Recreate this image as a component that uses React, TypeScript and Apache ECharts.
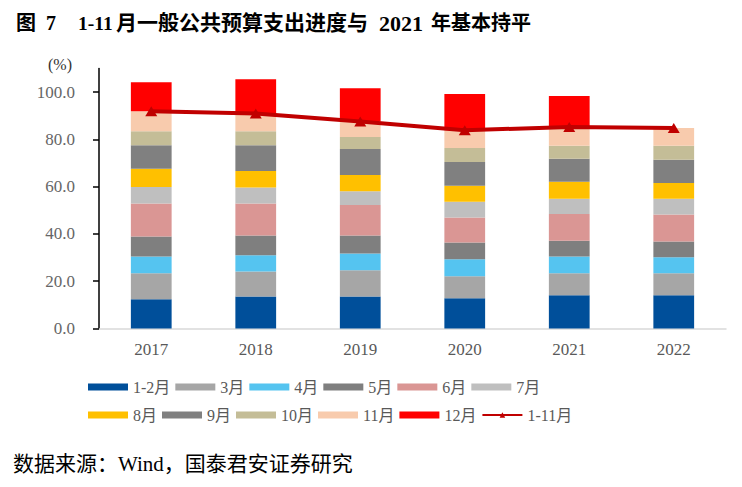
import React, { useEffect, useRef } from "react";
import * as echarts from "echarts";

const years = ["2017", "2018", "2019", "2020", "2021", "2022"];
const monthNames = ["1-2月", "3月", "4月", "5月", "6月", "7月", "8月", "9月", "10月", "11月", "12月"];
const m12 = [12.4, 13.5, 13.5, 12.8, 14.1, 14.1];
const m3 = [11.0, 10.6, 11.2, 9.3, 9.3, 9.3];
const m4 = [7.1, 6.9, 7.0, 7.2, 7.1, 6.8];
const m5 = [8.4, 8.4, 7.7, 7.1, 6.6, 6.6];
const m6 = [14.0, 13.5, 12.9, 10.6, 11.4, 11.4];
const m7 = [7.0, 6.8, 5.8, 6.6, 6.4, 6.7];
const m8 = [7.7, 7.0, 6.9, 6.8, 7.2, 6.7];
const m9 = [10.0, 10.9, 11.0, 10.1, 9.7, 9.8];
const m10 = [5.9, 5.9, 5.1, 5.9, 5.5, 5.9];
const m11 = [8.5, 7.5, 6.5, 7.5, 8.0, 7.6];
const m12th = [12.2, 14.5, 14.1, 15.4, 13.1, null];
const cum1to11 = [92.0, 91.0, 87.6, 83.9, 85.3, 84.9];
const yTicks = [0, 20, 40, 60, 80, 100];
const yMax = 110;
const lineName = "1-11月";

const monthValues = [m12, m3, m4, m5, m6, m7, m8, m9, m10, m11, m12th];
const colors = [
  "#004F9A", "#A6A6A6", "#55C4F0", "#7F7F7F", "#DA9694", "#BFBFBF",
  "#FFC000", "#808080", "#C4BD97", "#F8CBAD", "#FF0000",
];

const serif = "'Liberation Serif', 'Noto Sans CJK SC', serif";

export default function App() {
  const ref = useRef<HTMLDivElement>(null);
  useEffect(() => {
    document.body.style.margin = "0";
    const chart = echarts.init(ref.current!, null, { renderer: "svg" });
    const barSeries = monthNames.map((name, i) => ({
      name,
      type: "bar",
      stack: "total",
      barCategoryGap: "61%",
      itemStyle: { color: colors[i] },
      data: monthValues[i].map((v) => (v === null ? "-" : v)),
    }));
    const legendText = { fontSize: 16, color: "#595959", fontFamily: serif, width: 50 };
    const titleStyle = (text: string, fontSize: number) => ({
      text, fontSize, fontWeight: "bold", fill: "#000", fontFamily: serif, verticalAlign: "middle",
    });
    chart.setOption({
      animation: false,
      grid: { left: 99, right: 16, top: 68.6, bottom: 158.5 },
      legend: [
        {
          data: monthNames.slice(0, 6).map((n) => ({ name: n, icon: "rect" })),
          left: 88, top: 379, padding: 0, itemWidth: 40, itemHeight: 7, itemGap: 5,
          textStyle: legendText, selectedMode: false,
        },
        {
          data: [...monthNames.slice(6).map((n) => ({ name: n, icon: "rect" })), { name: lineName }],
          left: 88, top: 407, padding: 0, itemWidth: 40, itemHeight: 7, itemGap: 5,
          textStyle: legendText, selectedMode: false,
        },
      ],
      xAxis: {
        type: "category",
        data: years,
        axisLine: { lineStyle: { color: "#D9D9D9", width: 1.5 } },
        axisTick: { show: false },
        axisLabel: { fontSize: 17, color: "#595959", fontFamily: serif, margin: 12 },
      },
      yAxis: [
        {
          type: "value",
          min: 0,
          max: yMax,
          interval: 20,
          splitLine: { show: false },
          axisLine: { show: true, lineStyle: { color: "#000", width: 1.5 } },
          axisTick: { show: true, length: 6, customValues: yTicks, lineStyle: { color: "#000", width: 1.5 } },
          axisLabel: { show: false },
        },
        {
          type: "value",
          position: "left",
          offset: 14,
          min: 0,
          max: yMax,
          interval: 20,
          splitLine: { show: false },
          axisLine: { show: false },
          axisTick: { show: false },
          axisLabel: {
            showMaxLabel: false,
            fontSize: 17,
            color: "#666",
            fontFamily: serif,
            margin: 10,
            formatter: (v: number) => (v > 100 ? "" : v.toFixed(1)),
          },
        },
      ],
      series: [
        ...barSeries,
        {
          name: lineName,
          type: "line",
          z: 10,
          data: cum1to11,
          symbol: "triangle",
          symbolSize: [12, 10],
          itemStyle: { color: "#C00000" },
          lineStyle: { color: "#C00000", width: 4 },
        },
      ],
      graphic: [
        { type: "text", left: 48, top: 56, style: { text: "(%)", fontSize: 16, fill: "#333", fontFamily: serif } },
        { type: "text", x: 16, y: 23, style: titleStyle("图", 20) },
        { type: "text", x: 46, y: 23, style: titleStyle("7", 20) },
        { type: "text", x: 78, y: 23, style: titleStyle("1-11", 19.5) },
        { type: "text", x: 116, y: 23, style: titleStyle("月一般公共预算支出进度与", 21) },
        { type: "text", x: 379, y: 23, style: titleStyle("2021", 22) },
        { type: "text", x: 431, y: 23, style: titleStyle("年基本持平", 20) },
        { type: "text", x: 13, y: 464, style: { text: "数据来源：Wind，国泰君安证券研究", fontSize: 21, fill: "#000", fontFamily: serif, verticalAlign: "middle" } },
      ],
    });
    return () => chart.dispose();
  }, []);
  return <div ref={ref} style={{ width: 742, height: 487 }} />;
}
